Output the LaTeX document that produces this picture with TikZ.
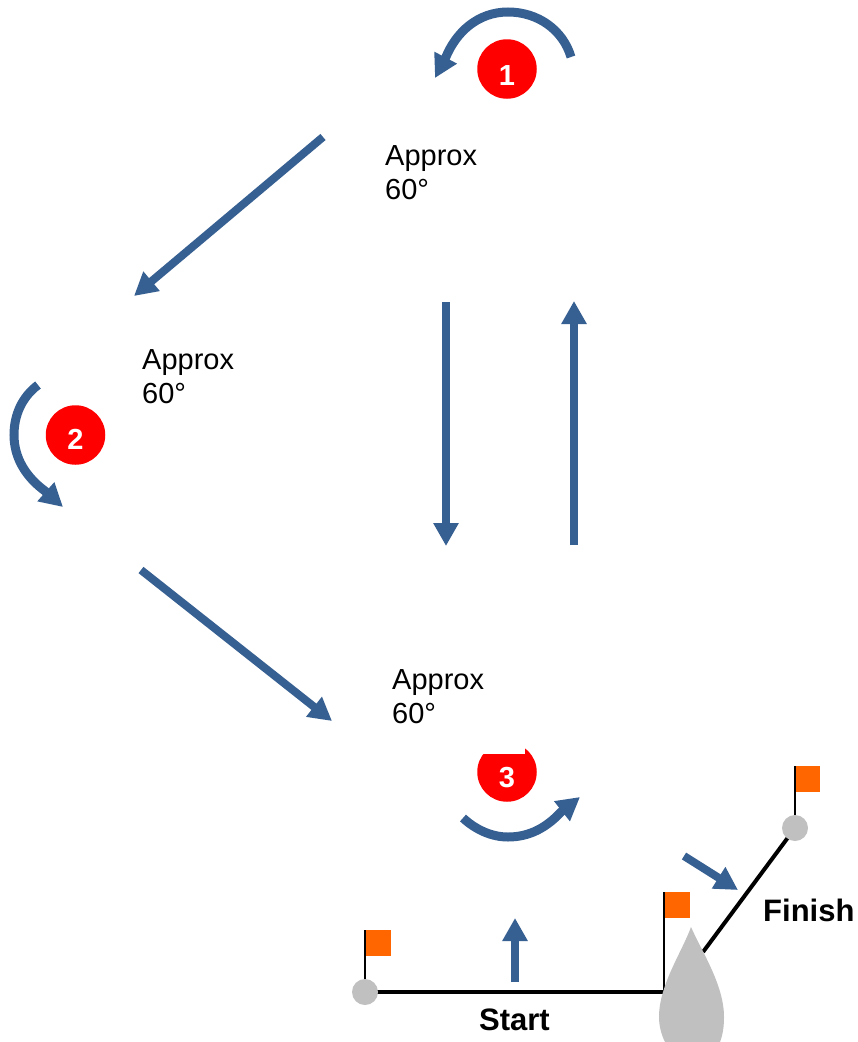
\documentclass[tikz,border=0pt]{standalone}
\usepackage{fontspec}
\setmainfont{Liberation Sans}
\usetikzlibrary{arrows.meta}
\definecolor{arrowblue}{HTML}{376092}
\definecolor{flagorange}{HTML}{FF6600}
\definecolor{markgrey}{HTML}{C0C0C0}
\definecolor{badgered}{HTML}{FF0000}
\tikzset{
  bluearrow/.style={draw=arrowblue,line width=8pt,-{Triangle[width=24pt,length=23pt,fill=arrowblue]}},
  turnarrow/.style={bluearrow,line width=9pt},
  redbadge/.style={circle,fill=badgered,minimum size=59.5pt,inner sep=0pt},
  badgenum/.style={anchor=base,inner sep=0pt,text=white,font=\fontsize{29}{30}\selectfont\bfseries},
  approxlabel/.style={anchor=base west,inner sep=0pt,font=\fontsize{29}{34}\selectfont},
  boldlabel/.style={anchor=base west,inner sep=0pt,font=\fontsize{31}{34}\selectfont\bfseries},
  buoy/.style={circle,fill=markgrey,minimum size=26pt,inner sep=0pt},
  flagrect/.style={fill=flagorange,minimum width=26pt,minimum height=26pt,inner sep=0pt,anchor=north west},
  pole/.style={draw=black,line width=2pt},
  courseline/.style={draw=black,line width=4pt}
}
\begin{document}
\begin{tikzpicture}[x=1pt,y=-1pt]
\useasboundingbox (0,0) rectangle (858,1042);
\fill[white] (0,0) rectangle (858,1042);

% badges
\node[redbadge] (b1) at (507,69) {};
\node[badgenum] (n1) at (507,85.5) {1};
\node[redbadge] (b2) at (75.5,435) {};
\node[badgenum] (n2) at (75.5,449.5) {2};
\begin{scope}
  \clip (470,754) -- (525,754) -- (525,740) -- (545,740) -- (545,810) -- (470,810) -- cycle;
  \node[redbadge] (b3) at (507,772) {};
\end{scope}
\node[badgenum] (n3) at (507,787) {3};

% turning arrows
\draw[turnarrow] (571,57) .. controls (563,30) and (538,12) .. (508,12)
  .. controls (478,12) and (456,32) .. (445.5,58) -- (435,78);
\draw[turnarrow] (38,385) .. controls (22,397) and (14,415) .. (14,435)
  .. controls (14,458) and (26,477) .. (45,491) -- (63,507);
\draw[turnarrow] (463,818) .. controls (476,830) and (492,837) .. (508,837)
  .. controls (530,837) and (547,827) .. (561,812) -- (580,797);

% leg arrows
\coordinate (a1s) at (323,137);
\coordinate (a1e) at (134,296);
\coordinate (a2s) at (141,570);
\coordinate (a2e) at (332,721);
\coordinate (a3s) at (446,302);
\coordinate (a3e) at (446,546);
\coordinate (a4s) at (574,545);
\coordinate (a4e) at (574,301);
\coordinate (a5s) at (515,982);
\coordinate (a5e) at (515,918);
\coordinate (a6s) at (684,856);
\coordinate (a6e) at (738,890);
\draw[bluearrow] (a1s) -- (a1e);
\draw[bluearrow] (a2s) -- (a2e);
\draw[bluearrow] (a3s) -- (a3e);
\draw[bluearrow] (a4s) -- (a4e);
\draw[bluearrow] (a5s) -- (a5e);
\draw[bluearrow] (a6s) -- (a6e);

% labels
\node[approxlabel] (t1) at (385,165) {Approx};
\node[approxlabel] (t1b) at (385,199.5) {60°};
\node[approxlabel] (t2) at (142,369) {Approx};
\node[approxlabel] (t2b) at (142,403.5) {60°};
\node[approxlabel] (t3) at (392,689) {Approx};
\node[approxlabel] (t3b) at (392,723.5) {60°};
\node[boldlabel] (start) at (479,1030) {Start};
\node[boldlabel] (finish) at (763,921) {Finish};

% flags and course lines
\node[flagrect] (f1) at (364.5,929.5) {};
\node[flagrect] (f2) at (664,892) {};
\node[flagrect] (f3) at (794,765.5) {};
\coordinate (p1) at (364.5,930);
\coordinate (p2) at (663.5,892);
\coordinate (p3) at (794.5,766);
\coordinate (p1b) at (364.5,985);
\coordinate (p2b) at (663.5,992);
\coordinate (p3b) at (794.5,820);
\draw[pole] (p1) -- (p1b);
\draw[pole] (p2) -- (p2b);
\draw[pole] (p3) -- (p3b);
\coordinate (fe) at (703,952);
\draw[courseline] (365,992) -- (p2b);
\draw[courseline] (795,828) -- (fe);
\node[buoy] (buoyL) at (365,992) {};
\node[buoy] (buoyR) at (795,828) {};

% boat
\fill[markgrey] (691,927) .. controls (682,952) and (659,985) .. (659,1017)
  .. controls (659,1027) and (662,1036) .. (665,1042) -- (720,1042)
  .. controls (723,1034) and (724,1026) .. (724,1017)
  .. controls (724,985) and (702,952) .. (691,927) -- cycle;
\end{tikzpicture}
\end{document}
